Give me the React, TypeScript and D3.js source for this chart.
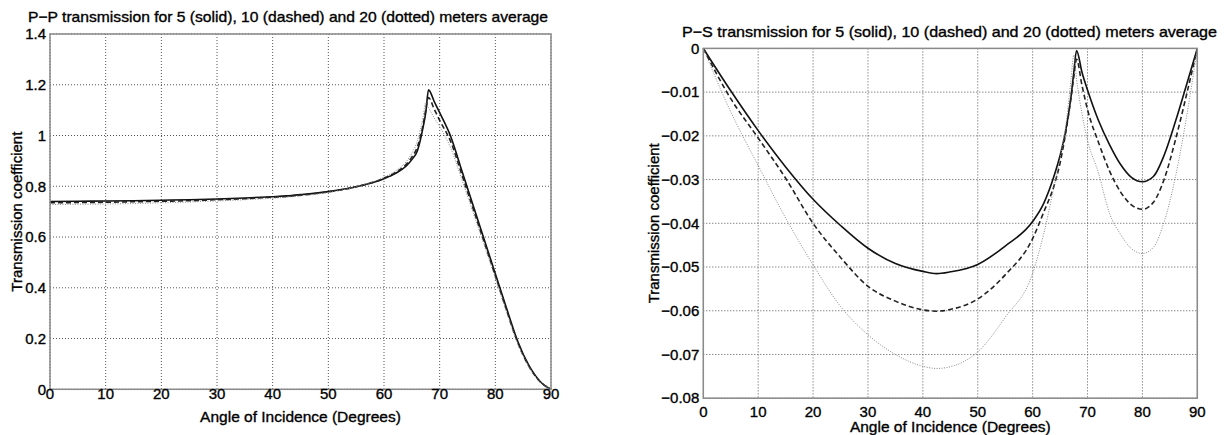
import React from "react";
import * as d3 from "d3";

const angles = [0, 5, 10, 15, 20, 25, 30, 35, 40, 42.5, 45, 50, 55, 60, 62, 64, 65, 66, 67, 67.5, 68, 69, 70, 72, 74, 76, 78, 80, 82, 84, 86, 88, 90];

const ppSolid = [0.740, 0.741, 0.742, 0.743, 0.745, 0.747, 0.750, 0.754, 0.759, 0.762, 0.767, 0.779, 0.798, 0.830, 0.850, 0.880, 0.905, 0.940, 1.030, 1.090, 1.180, 1.135, 1.090, 0.995, 0.860, 0.725, 0.590, 0.455, 0.320, 0.190, 0.095, 0.032, 0.0];
const ppDashed = [0.735, 0.736, 0.737, 0.739, 0.741, 0.743, 0.747, 0.751, 0.757, 0.760, 0.765, 0.778, 0.798, 0.832, 0.854, 0.887, 0.915, 0.955, 1.040, 1.100, 1.150, 1.105, 1.060, 0.975, 0.845, 0.712, 0.580, 0.447, 0.313, 0.185, 0.092, 0.031, 0.0];
const ppDotted = [0.728, 0.729, 0.730, 0.732, 0.735, 0.738, 0.742, 0.747, 0.753, 0.757, 0.762, 0.776, 0.798, 0.836, 0.860, 0.897, 0.930, 0.980, 1.070, 1.130, 1.110, 1.070, 1.035, 0.950, 0.825, 0.697, 0.568, 0.438, 0.305, 0.180, 0.090, 0.030, 0.0];

const psSolid = [0, -0.0097, -0.0188, -0.0271, -0.0345, -0.0405, -0.0457, -0.0492, -0.0510, -0.0515, -0.0511, -0.0494, -0.0452, -0.0396, -0.0355, -0.0288, -0.0245, -0.0190, -0.0110, -0.0055, -0.0005, -0.0055, -0.0095, -0.0165, -0.0220, -0.0265, -0.0295, -0.0305, -0.0293, -0.0243, -0.0168, -0.0085, 0];
const psDashed = [0, -0.0115, -0.0205, -0.0297, -0.0400, -0.0478, -0.0544, -0.0578, -0.0598, -0.0601, -0.0597, -0.0573, -0.0518, -0.0435, -0.0375, -0.0310, -0.0262, -0.0195, -0.0112, -0.0065, -0.0025, -0.0085, -0.0140, -0.0215, -0.0280, -0.0328, -0.0358, -0.0368, -0.0352, -0.0298, -0.0210, -0.0108, 0];
const psDotted = [0, -0.0145, -0.0268, -0.0388, -0.0495, -0.0590, -0.0655, -0.0700, -0.0727, -0.0732, -0.0728, -0.0694, -0.0615, -0.0514, -0.0425, -0.0310, -0.0250, -0.0180, -0.0070, -0.0015, -0.0070, -0.0150, -0.0210, -0.0285, -0.0377, -0.0425, -0.0458, -0.0469, -0.0455, -0.0395, -0.0295, -0.0160, 0];

const xTicks = [0, 10, 20, 30, 40, 50, 60, 70, 80, 90];
const ppTicks = [0, 0.2, 0.4, 0.6, 0.8, 1, 1.2, 1.4];
const ppTickLabels = ["0", "0.2", "0.4", "0.6", "0.8", "1", "1.2", "1.4"];
const psTicks = [-0.08, -0.07, -0.06, -0.05, -0.04, -0.03, -0.02, -0.01, 0];
const psTickLabels = ["\u22120.08", "\u22120.07", "\u22120.06", "\u22120.05", "\u22120.04", "\u22120.03", "\u22120.02", "\u22120.01", "0"];

const ppTitle = "P\u2212P transmission for 5 (solid), 10 (dashed) and 20 (dotted) meters average";
const psTitle = "P\u2212S transmission for 5 (solid), 10 (dashed) and 20 (dotted) meters average";

const FONT = "'Liberation Sans', Arial, Helvetica, sans-serif";

type PanelProps = {
  x0: number; x1: number; yTop: number; yBot: number;
  yDomain: [number, number]; yTicks: number[]; yLabels: string[];
  series: number[][];
  title: string; titleX: number; titleY: number; titleLen: number;
  xLabelDy: number; xTitleY: number; yTitleX: number;
};

function Panel(p: PanelProps) {
  const xs = d3.scaleLinear().domain([0, 90]).range([p.x0, p.x1]);
  const ys = d3.scaleLinear().domain(p.yDomain).range([p.yBot, p.yTop]);
  const line = d3.line<[number, number]>().x(d => xs(d[0])).y(d => ys(d[1])).curve(d3.curveMonotoneX);
  const styles = [
    { stroke: "#111", width: 1.6, dash: "none" },
    { stroke: "#222", width: 1.6, dash: "5,3" },
    { stroke: "#888", width: 1, dash: "1,1.5" },
  ];
  const cx = (p.x0 + p.x1) / 2;
  const cy = (p.yTop + p.yBot) / 2;
  const txt = { fill: "#000", stroke: "#000", strokeWidth: 0.35 };
  return (
    <g fontFamily={FONT}>
      {xTicks.map(t => (
        <line key={"gx" + t} x1={xs(t)} x2={xs(t)} y1={p.yTop} y2={p.yBot} stroke="#555" strokeWidth={1} strokeDasharray="1,2" />
      ))}
      {p.yTicks.map(t => (
        <line key={"gy" + t} x1={p.x0} x2={p.x1} y1={ys(t)} y2={ys(t)} stroke="#555" strokeWidth={1} strokeDasharray="1,2" />
      ))}
      {p.series.map((s, i) => (
        <path key={"s" + i} d={line(angles.map((a, j) => [a, s[j]] as [number, number])) || ""} fill="none"
          stroke={styles[i].stroke} strokeWidth={styles[i].width} strokeDasharray={styles[i].dash} />
      ))}
      <rect x={p.x0} y={p.yTop} width={p.x1 - p.x0} height={p.yBot - p.yTop} fill="none" stroke="#8a8a8a" strokeWidth={1.5} />
      {xTicks.map(t => (
        <text key={"xl" + t} x={xs(t)} y={p.yBot + p.xLabelDy} textAnchor="middle" fontSize={15} {...txt}>{t}</text>
      ))}
      {p.yTicks.map((t, i) => (
        <text key={"yl" + t} x={p.x0 - 4} y={ys(t)} dy="0.35em" textAnchor="end" fontSize={15} {...txt}>{p.yLabels[i]}</text>
      ))}
      <text x={p.titleX} y={p.titleY} fontSize={15} {...txt} textLength={p.titleLen} lengthAdjust="spacingAndGlyphs">{p.title}</text>
      <text x={cx} y={p.xTitleY} textAnchor="middle" fontSize={15.5} {...txt}>Angle of Incidence (Degrees)</text>
      <text transform={`translate(${p.yTitleX},${cy}) rotate(-90)`} textAnchor="middle" dy="0.35em" fontSize={15} {...txt}>Transmission coefficient</text>
    </g>
  );
}

export default function App() {
  return (
    <svg width={1232} height={435} style={{ position: "absolute", left: 0, top: 0, background: "#fff" }}>
      <rect x={0} y={0} width={1232} height={435} fill="#fff" />
      <Panel x0={50} x1={551} yTop={34} yBot={389.3} yDomain={[0, 1.4]} yTicks={ppTicks} yLabels={ppTickLabels}
        series={[ppSolid, ppDashed, ppDotted]}
        title={ppTitle}
        titleX={28} titleY={22} titleLen={520} xLabelDy={10} xTitleY={422} yTitleX={17} />
      <Panel x0={703.3} x1={1197.3} yTop={48.4} yBot={398.2} yDomain={[-0.08, 0]} yTicks={psTicks} yLabels={psTickLabels}
        series={[psSolid, psDashed, psDotted]}
        title={psTitle}
        titleX={682} titleY={37} titleLen={535} xLabelDy={18.5} xTitleY={432} yTitleX={654} />
    </svg>
  );
}
